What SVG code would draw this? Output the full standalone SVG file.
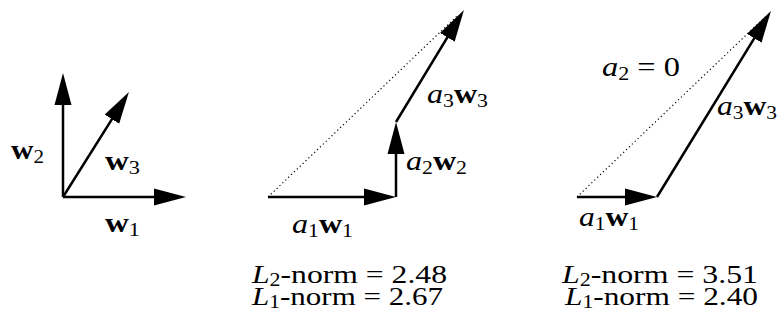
<svg xmlns="http://www.w3.org/2000/svg" width="778" height="331" viewBox="0 0 778 331">
<style>
text{font-family:"Liberation Serif","Times New Roman",serif;font-size:28px;fill:#000}
.i{font-style:italic}
.b{font-weight:bold}
.s{font-size:19px}
.n{font-size:26px}
.ns{font-size:18px}
.v{stroke:#000;stroke-width:2.5;fill:none}
.d{stroke:#000;stroke-width:1.2;stroke-dasharray:1.2 2.8;fill:none}
</style>
<defs>
<marker id="ah" markerUnits="userSpaceOnUse" markerWidth="34" markerHeight="20" refX="24" refY="9" orient="auto">
<path d="M0,0.5 L32,9 L0,17.5 z" fill="#000"/>
</marker>
</defs>
<g id="connectors">
<line class="v" x1="63" y1="197" x2="178" y2="197" marker-end="url(#ah)"/>
<line class="v" x1="63" y1="197" x2="63" y2="81" marker-end="url(#ah)"/>
<line class="v" x1="63" y1="197" x2="124.7" y2="98.8" marker-end="url(#ah)"/>
<line class="d" x1="268" y1="197" x2="458" y2="15"/>
<line class="v" x1="268" y1="197" x2="388" y2="197" marker-end="url(#ah)"/>
<line class="v" x1="396" y1="197" x2="396" y2="130" marker-end="url(#ah)"/>
<line class="v" x1="396" y1="122" x2="459.8" y2="16.8" marker-end="url(#ah)"/>
<line class="d" x1="577" y1="197" x2="765" y2="17"/>
<line class="v" x1="577" y1="197" x2="649" y2="197" marker-end="url(#ah)"/>
<line class="v" x1="657" y1="197" x2="766.8" y2="17.8" marker-end="url(#ah)"/>
</g>
<g id="basis">
<text x="11" y="159" textLength="33" lengthAdjust="spacingAndGlyphs"><tspan class="b">w</tspan><tspan class="s" dy="4">2</tspan></text>
<text x="105" y="170" textLength="35" lengthAdjust="spacingAndGlyphs"><tspan class="b">w</tspan><tspan class="s" dy="4">3</tspan></text>
<text x="105" y="232" textLength="35" lengthAdjust="spacingAndGlyphs"><tspan class="b">w</tspan><tspan class="s" dy="4">1</tspan></text>
</g>
<g id="l2-solution">
<text x="292" y="233" textLength="61" lengthAdjust="spacingAndGlyphs"><tspan class="i">a</tspan><tspan class="s" dy="4">1</tspan><tspan class="b" dy="-4">w</tspan><tspan class="s" dy="4">1</tspan></text>
<text x="406" y="170" textLength="61" lengthAdjust="spacingAndGlyphs"><tspan class="i">a</tspan><tspan class="s" dy="4">2</tspan><tspan class="b" dy="-4">w</tspan><tspan class="s" dy="4">2</tspan></text>
<text x="427" y="103" textLength="61" lengthAdjust="spacingAndGlyphs"><tspan class="i">a</tspan><tspan class="s" dy="4">3</tspan><tspan class="b" dy="-4">w</tspan><tspan class="s" dy="4">3</tspan></text>
<text class="n" x="252" y="283" textLength="195" lengthAdjust="spacingAndGlyphs"><tspan class="i">L</tspan><tspan class="ns" dy="3">2</tspan><tspan dy="-3">-norm = 2.48</tspan></text>
<text class="n" x="252" y="305" textLength="191" lengthAdjust="spacingAndGlyphs"><tspan class="i">L</tspan><tspan class="ns" dy="3">1</tspan><tspan dy="-3">-norm = 2.67</tspan></text>
</g>
<g id="l1-solution">
<text x="602" y="76" textLength="78" lengthAdjust="spacingAndGlyphs"><tspan class="i">a</tspan><tspan class="s" dy="4">2</tspan><tspan dy="-4"> = 0</tspan></text>
<text x="717" y="115" textLength="60" lengthAdjust="spacingAndGlyphs"><tspan class="i">a</tspan><tspan class="s" dy="4">3</tspan><tspan class="b" dy="-4">w</tspan><tspan class="s" dy="4">3</tspan></text>
<text x="579" y="226" textLength="60" lengthAdjust="spacingAndGlyphs"><tspan class="i">a</tspan><tspan class="s" dy="4">1</tspan><tspan class="b" dy="-4">w</tspan><tspan class="s" dy="4">1</tspan></text>
<text class="n" x="562" y="283" textLength="196" lengthAdjust="spacingAndGlyphs"><tspan class="i">L</tspan><tspan class="ns" dy="3">2</tspan><tspan dy="-3">-norm = 3.51</tspan></text>
<text class="n" x="565" y="305" textLength="193" lengthAdjust="spacingAndGlyphs"><tspan class="i">L</tspan><tspan class="ns" dy="3">1</tspan><tspan dy="-3">-norm = 2.40</tspan></text>
</g>
</svg>
